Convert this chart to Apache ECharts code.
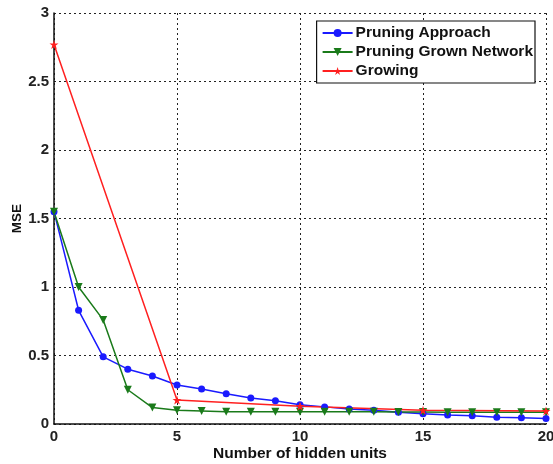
<!DOCTYPE html>
<html><head><meta charset="utf-8">
<script src="https://cdn.jsdelivr.net/npm/echarts@6/dist/echarts.min.js"></script>
<style>html,body{margin:0;padding:0;background:#fff}#c{width:553px;height:464px}</style>
</head><body><div id="c"></div>
<script>
const xPruning = [0,1,2,3,4,5,6,7,8,9,10,11,12,13,14,15,16,17,18,19,20];
const pruningApproach = [1.55,0.83,0.49,0.40,0.35,0.285,0.255,0.22,0.19,0.17,0.14,0.125,0.11,0.10,0.085,0.075,0.065,0.06,0.05,0.045,0.04];
const pruningGrown = [1.55,1.0,0.76,0.25,0.12,0.10,0.095,0.09,0.09,0.09,0.09,0.09,0.09,0.09,0.088,0.087,0.086,0.085,0.085,0.085,0.085];
const xGrowing = [0,5,10,15,20];
const growing = [2.77,0.175,0.13,0.10,0.095];
const xTicks = [0,5,10,15,20];
const yTicks = [0,0.5,1,1.5,2,2.5,3];
const seriesNames = ['Pruning Approach','Pruning Grown Network','Growing'];

const star = 'path://M50,0 L61.8,35.4 L100,35.4 L69.1,57.3 L80.9,93.3 L50,71.4 L19.1,93.3 L30.9,57.3 L0,35.4 L38.2,35.4 Z';
const font = 'Liberation Sans, Arial, sans-serif';
const chart = echarts.init(document.getElementById('c'));
const gridLine = {show:true, lineStyle:{color:'#222', type:[2,3], width:1}};
chart.setOption({
  animation:false,
  grid:{left:54, right:7, top:13, bottom:40, containLabel:false, outerBoundsMode:'none'},
  legend:{
    orient:'vertical', right:18, top:21,
    backgroundColor:'#fff', borderColor:'#111', borderWidth:1.2,
    padding:[4,2,4,5], itemGap:3, itemWidth:30, itemHeight:10,
    textStyle:{fontFamily:font, fontWeight:'bold', fontSize:15.5, color:'#111', padding:[0,0,0,-2]},
    data:seriesNames
  },
  xAxis:{type:'value', min:0, max:20, interval:5,
    axisLine:{show:true, onZero:false, lineStyle:{color:'#111', width:1.5}},
    axisTick:{show:false},
    axisLabel:{fontFamily:font, fontWeight:'bold', fontSize:15, color:'#222', margin:5,
      formatter:v=>xTicks.includes(v)?String(v):''},
    splitLine:gridLine,
    name:'Number of hidden units', nameLocation:'middle', nameGap:22, nameMoveOverlap:false,
    nameTextStyle:{fontFamily:font, fontWeight:'bold', fontSize:15.5, color:'#111'}
  },
  yAxis:{type:'value', min:0, max:3, interval:0.5,
    axisLine:{show:true, onZero:false, lineStyle:{color:'#111', width:1.5}},
    axisTick:{show:false},
    axisLabel:{fontFamily:font, fontWeight:'bold', fontSize:15, color:'#222', margin:5,
      formatter:v=>yTicks.includes(v)?String(v):''},
    splitLine:gridLine,
    name:'MSE', nameLocation:'middle', nameGap:30, nameRotate:90, nameMoveOverlap:false,
    nameTextStyle:{fontFamily:font, fontWeight:'bold', fontSize:13.5, color:'#111'}
  },
  series:[
    {name:seriesNames[0], type:'line', data:xPruning.map((x,i)=>[x,pruningApproach[i]]),
      color:'#1a1aff', symbol:'circle', symbolSize:7, lineStyle:{width:1.5}},
    {name:seriesNames[1], type:'line', data:xPruning.map((x,i)=>[x,pruningGrown[i]]),
      color:'#1a7a1a', symbol:'triangle', symbolRotate:180, symbolSize:8, lineStyle:{width:1.5}},
    {name:seriesNames[2], type:'line', data:xGrowing.map((x,i)=>[x,growing[i]]),
      color:'#ff2020', symbol:star, symbolSize:9, lineStyle:{width:1.5}}
  ]
});
</script></body></html>
